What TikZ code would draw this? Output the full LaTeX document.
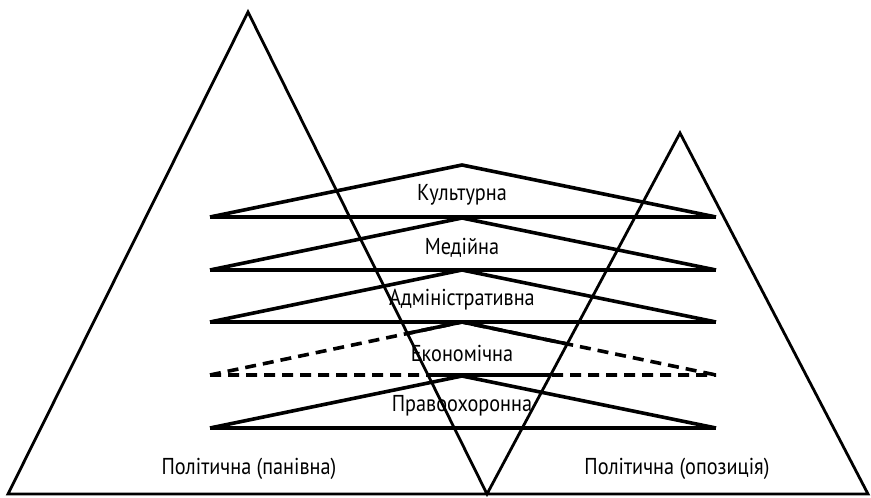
\documentclass[tikz,border=0pt]{standalone}
\usepackage{fontspec}
\newfontfamily\cond[FakeStretch=0.88]{PT Sans}
\tikzset{x=1pt,y=-1pt,
  hill/.style={line width=2.8pt,line join=miter},
  layer/.style={line width=3.6pt,line join=bevel},
  lbl/.style={font=\cond\fontsize{23}{25}\selectfont,inner sep=0pt}}

\begin{document}
\begin{tikzpicture}
\useasboundingbox (0,0) rectangle (871,498);
% two hills
\coordinate (lbase) at (8,494);
\coordinate (ltop) at (248,12);
\coordinate (vbot) at (487,494);
\coordinate (rtop) at (680,133);
\coordinate (rbase) at (868,494);
\draw[hill] (lbase) -- (ltop) -- (vbot) -- (rtop) -- (rbase) -- cycle;
% layers
\foreach \b/\nm/\txt in {217/kult/Культурна,270/med/Медійна,322/adm/Адміністративна,428/prav/Правоохоронна}{
  \coordinate (\nm-t) at (462,\b-52);
  \coordinate (\nm-l) at (210,\b);
  \coordinate (\nm-r) at (716,\b);
  \draw[layer] (\nm-l) -- (\nm-t) -- (\nm-r);
  \draw[layer] (\nm-l) -- (\nm-r);
  \node[lbl] (\nm) at (462,\b-22) {\txt};}
% economic layer: dashed outside the overlap
\coordinate (eko-t) at (462,322);
\coordinate (eko-l) at (210,375);
\coordinate (eko-r) at (716,375);
\draw[layer,dash pattern=on 11pt off 7pt] (eko-l) -- (eko-t) -- (eko-r) (eko-l) -- (eko-r);
\begin{scope}
\clip (ltop) -- (rtop) -- (vbot) -- cycle;
\draw[layer] (eko-l) -- (eko-t) -- (eko-r) (eko-l) -- (eko-r);
\end{scope}
\node[lbl] (eko) at (462,353) {Економічна};
% bottom labels
\node[lbl] (pan) at (249,469) {Політична (панівна)};
\node[lbl] (opo) at (677,469) {Політична (опозиція)};
\end{tikzpicture}
\end{document}
